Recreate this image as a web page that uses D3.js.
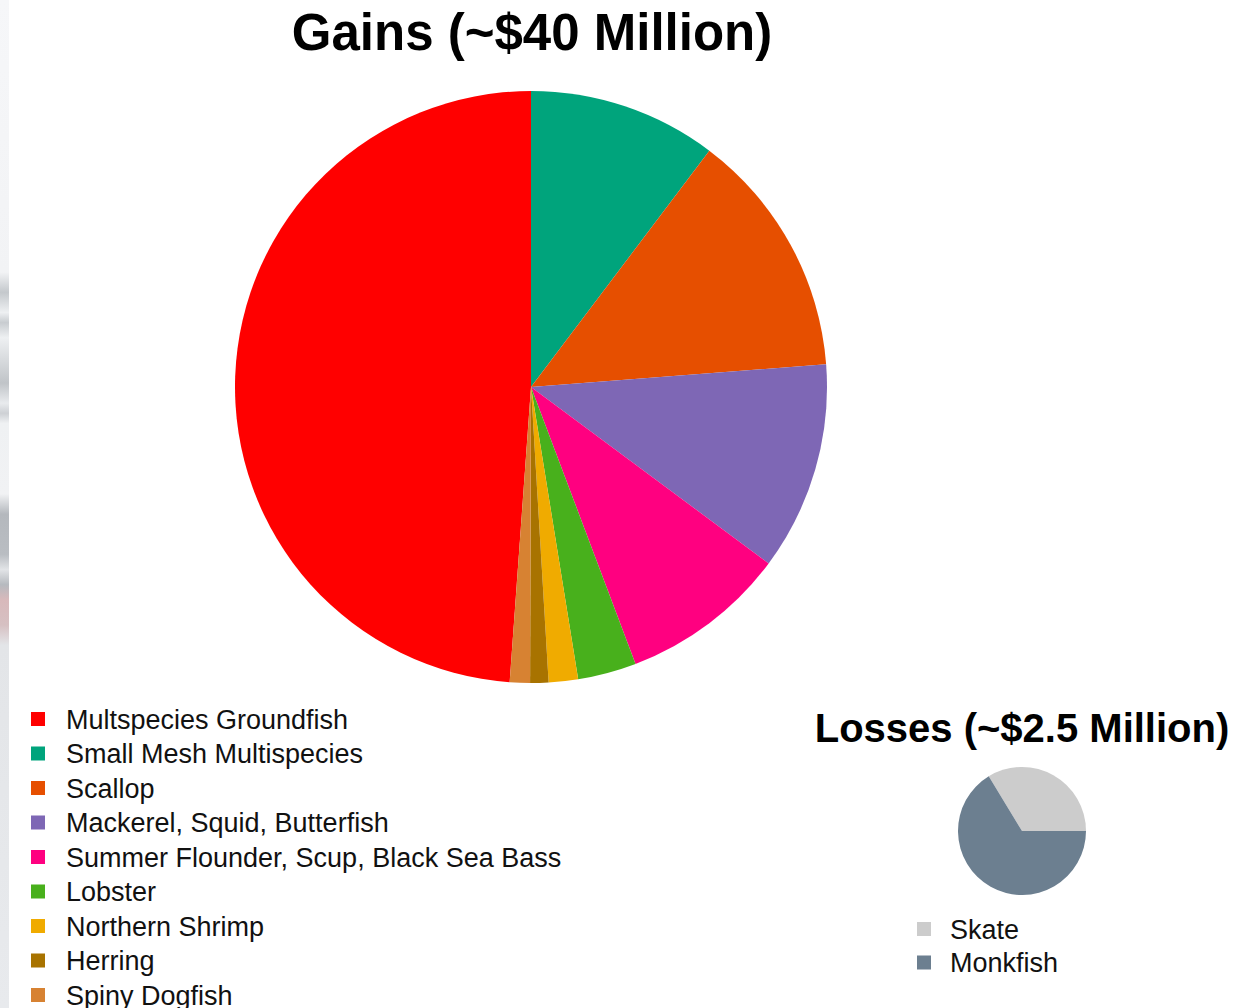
<!DOCTYPE html>
<html>
<head>
<meta charset="utf-8">
<script src="https://cdn.jsdelivr.net/npm/d3@7"></script>
<style>
  html, body { margin: 0; padding: 0; background: #ffffff; }
  svg { display: block; font-family: "Liberation Sans", Arial, sans-serif; }
</style>
</head>
<body>
<svg id="chart" width="1251" height="1008"></svg>
<script>
// Gains by fishery (share of ~$40M, percent)
const gainCategories = [
  "Multspecies Groundfish",
  "Small Mesh Multispecies",
  "Scallop",
  "Mackerel, Squid, Butterfish",
  "Summer Flounder, Scup, Black Sea Bass",
  "Lobster",
  "Northern Shrimp",
  "Herring",
  "Spiny Dogfish"
];
const gainValues = [48.9, 10.3, 13.5, 11.4, 9.1, 3.2, 1.6, 1.0, 1.1];
const gainColors = ["#ff0000", "#00a47c", "#e64f00", "#7e67b5", "#ff0080",
                    "#48b01c", "#f0ab00", "#a87300", "#d78232"];

// Losses by fishery (share of ~$2.5M, percent)
const lossCategories = ["Skate", "Monkfish"];
const lossValues = [33.7, 66.3];
const lossColors = ["#cccccc", "#6c7f90"];

const gainTitle = "Gains (~$40 Million)";
const lossTitle = "Losses (~$2.5 Million)";

const svg = d3.select("#chart");
const W = 1251, H = 1008;

// soft slide edge along the left border
const defs = svg.append("defs");
const edge = defs.append("linearGradient").attr("id", "edgeGrad")
  .attr("x1", 0).attr("y1", 0).attr("x2", 0).attr("y2", 1);
[[0, "#f6f7f9"], [0.27, "#f2f3f5"], [0.29, "#c4c8cc"], [0.31, "#eef0f2"],
 [0.32, "#c8ccd0"], [0.335, "#eef0f2"], [0.38, "#c0c4c8"], [0.40, "#e9ebee"],
 [0.41, "#cdd0d4"], [0.42, "#eff1f3"], [0.49, "#f1f2f4"], [0.51, "#b4b8bd"],
 [0.55, "#b9bdc2"], [0.565, "#e2e4e7"], [0.58, "#b6babf"], [0.595, "#d8b9bb"],
 [0.62, "#d6c0c2"], [0.64, "#e3e5e8"], [1, "#e8eaed"]]
  .forEach(([o, c]) => edge.append("stop").attr("offset", o).attr("stop-color", c));
svg.append("rect").attr("x", 0).attr("y", 0).attr("width", 9).attr("height", H)
  .attr("fill", "url(#edgeGrad)");

// ---- Gains pie ----
const gainCx = 531, gainCy = 387, gainR = 296;
const gainTotal = d3.sum(gainValues);
// first slice ends at 12 o'clock, slices run clockwise
const gainStart = -2 * Math.PI * gainValues[0] / gainTotal;
const gainPie = d3.pie().sort(null)
  .startAngle(gainStart).endAngle(gainStart + 2 * Math.PI);
const gainArc = d3.arc().innerRadius(0).outerRadius(gainR);

svg.append("g").attr("transform", `translate(${gainCx},${gainCy})`)
  .selectAll("path").data(gainPie(gainValues)).join("path")
  .attr("d", gainArc)
  .attr("fill", (d, i) => gainColors[i]);

svg.append("text").attr("x", 532).attr("y", 50)
  .attr("text-anchor", "middle").attr("font-size", 51).attr("font-weight", "bold")
  .attr("fill", "#000").text(gainTitle);

// gains legend
const gLeg = svg.append("g").attr("transform", "translate(31,719)");
const gRow = gLeg.selectAll("g").data(gainCategories).join("g")
  .attr("transform", (d, i) => `translate(0,${i * 34.5})`);
gRow.append("rect").attr("x", 0).attr("y", -7).attr("width", 14).attr("height", 14)
  .attr("fill", (d, i) => gainColors[i]);
gRow.append("text").attr("x", 35).attr("y", 9.5)
  .attr("font-size", 27).attr("fill", "#111").text(d => d);

// ---- Losses pie ----
const lossCx = 1022, lossCy = 831, lossR = 64;
// starts at 3 o'clock and runs counter-clockwise
const lossPie = d3.pie().sort(null)
  .startAngle(Math.PI / 2).endAngle(Math.PI / 2 - 2 * Math.PI);
const lossArc = d3.arc().innerRadius(0).outerRadius(lossR);

svg.append("g").attr("transform", `translate(${lossCx},${lossCy})`)
  .selectAll("path").data(lossPie(lossValues)).join("path")
  .attr("d", lossArc)
  .attr("fill", (d, i) => lossColors[i]);

svg.append("text").attr("x", 1022).attr("y", 742)
  .attr("text-anchor", "middle").attr("font-size", 40).attr("font-weight", "bold")
  .attr("fill", "#000").text(lossTitle);

const lLeg = svg.append("g").attr("transform", "translate(917,929)");
const lRow = lLeg.selectAll("g").data(lossCategories).join("g")
  .attr("transform", (d, i) => `translate(0,${i * 33.5})`);
lRow.append("rect").attr("x", 0).attr("y", -7).attr("width", 14).attr("height", 14)
  .attr("fill", (d, i) => lossColors[i]);
lRow.append("text").attr("x", 33).attr("y", 9.5)
  .attr("font-size", 27).attr("fill", "#111").text(d => d);
</script>
</body>
</html>
